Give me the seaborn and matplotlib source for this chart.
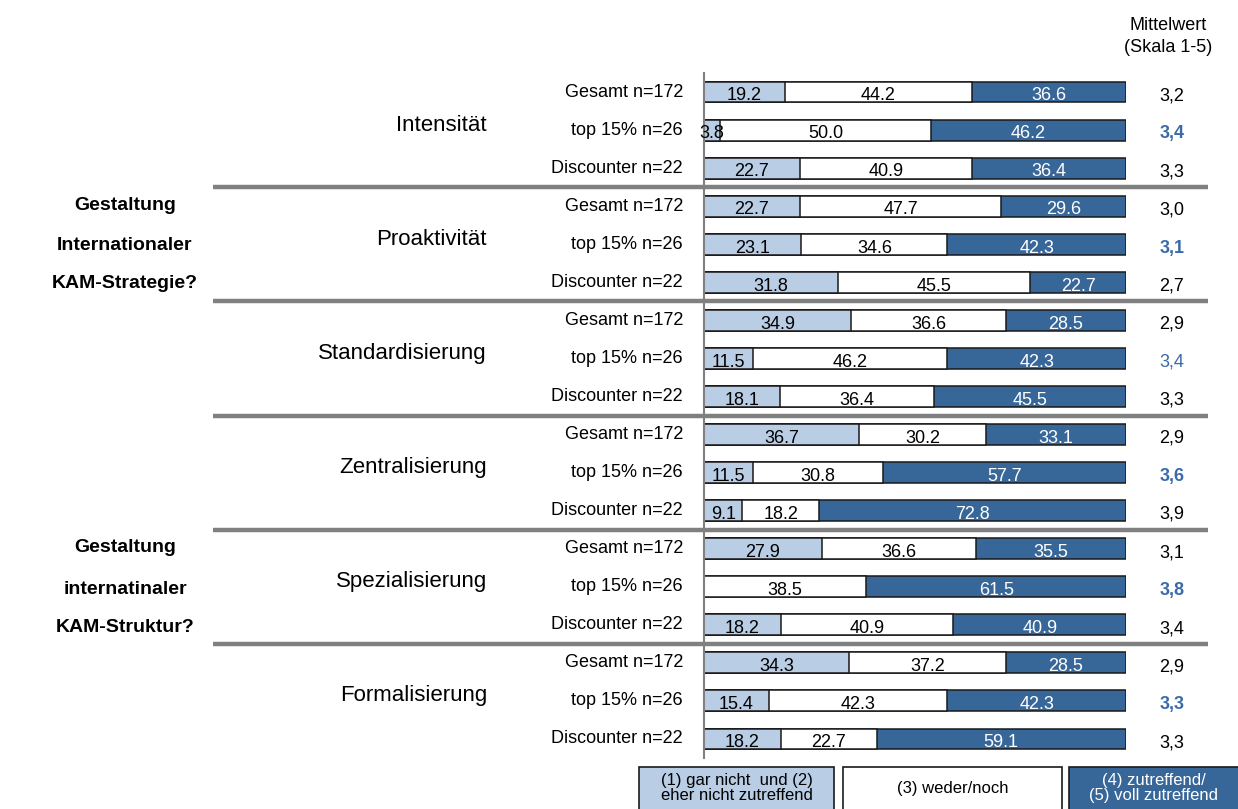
import numpy as np
import pandas as pd
import seaborn as sns
from matplotlib import pyplot as plt
from matplotlib import font_manager as fm
from matplotlib.patches import Rectangle
from matplotlib.transforms import blended_transform_factory

# data
categories = ['Intensität', 'Proaktivität', 'Standardisierung',
              'Zentralisierung', 'Spezialisierung', 'Formalisierung']
subgroups = ['Gesamt n=172', 'top 15% n=26', 'Discounter n=22']
low = [19.2, 3.8, 22.7, 22.7, 23.1, 31.8, 34.9, 11.5, 18.1,
       36.7, 11.5, 9.1, 27.9, 0.0, 18.2, 34.3, 15.4, 18.2]
mid = [44.2, 50.0, 40.9, 47.7, 34.6, 45.5, 36.6, 46.2, 36.4,
       30.2, 30.8, 18.2, 36.6, 38.5, 40.9, 37.2, 42.3, 22.7]
high = [36.6, 46.2, 36.4, 29.6, 42.3, 22.7, 28.5, 42.3, 45.5,
        33.1, 57.7, 72.8, 35.5, 61.5, 40.9, 28.5, 42.3, 59.1]
means = ['3,2', '3,4', '3,3', '3,0', '3,1', '2,7', '2,9', '3,4', '3,3',
         '2,9', '3,6', '3,9', '3,1', '3,8', '3,4', '2,9', '3,3', '3,3']
legend_labels = ['(1) gar nicht  und (2)\neher nicht zutreffend',
                 '(3) weder/noch',
                 '(4) zutreffend/\n(5) voll zutreffend']
side_titles = [['Gestaltung', 'Internationaler', 'KAM-Strategie?'],
               ['Gestaltung', 'internatinaler', 'KAM-Struktur?']]

LIGHT = '#B9CDE5'
DARK = '#376699'
MEANBLUE = '#3A6AA8'
GRAY = '#808080'

sns.set_style('white')
plt.rcParams['font.family'] = ['Liberation Sans', 'DejaVu Sans']
plt.rcParams['text.color'] = 'black'
names = {f.name for f in fm.fontManager.ttflist}
narrow = 'Liberation Sans Narrow' if 'Liberation Sans Narrow' in names else 'Liberation Sans'

W, H = 1238, 809
fig = plt.figure(figsize=(W / 100, H / 100), dpi=100)
ax = fig.add_axes([704 / W, 1 - 758 / H, (1126 - 704) / W, (758 - 73) / H])

n = len(low)
df = pd.DataFrame({'row': range(n), 'low': low, 'mid': mid, 'high': high})
df['c1'] = df['low']
df['c2'] = df['low'] + df['mid']
df['c3'] = df['c2'] + df['high']

# stacked by layering cumulative totals
for col, colr in [('c3', DARK), ('c2', 'white'), ('c1', LIGHT)]:
    sns.barplot(data=df, x=col, y='row', orient='y', color=colr, saturation=1,
                width=0.55, edgecolor='#1a1a1a', linewidth=1.1, errorbar=None, ax=ax)

for i in range(n):
    starts = [0, low[i], low[i] + mid[i]]
    vals = [low[i], mid[i], high[i]]
    for s, v, tc in zip(starts, vals, ['black', 'black', 'white']):
        if v > 0:
            ax.text(s + v / 2, i + 0.1, f'{v:.1f}', ha='center', va='center',
                    color=tc, fontsize=13)

ax.set_xlim(0, 100)
ax.set_ylim(n - 0.5, -0.5)
ax.set_xticks([])
ax.set_yticks([])
ax.set_xlabel('')
ax.set_ylabel('')
sns.despine(ax=ax, left=False, bottom=True)
ax.spines['left'].set_color(GRAY)
ax.spines['left'].set_linewidth(1.5)

trans = blended_transform_factory(fig.transFigure, ax.transData)

# row labels, group labels, mean values
for i in range(n):
    g, k = divmod(i, 3)
    ax.text(683 / W, i, subgroups[k], transform=trans, ha='right', va='center',
            fontsize=13)
    if k == 1:
        ax.text(487 / W, i - 0.13, categories[g], transform=trans, ha='right',
                va='center', fontsize=16)
        ax.text(1172 / W, i + 0.1, means[i], transform=trans, ha='center',
                va='center', fontsize=13, color=MEANBLUE,
                fontweight='normal' if categories[g] == 'Standardisierung' else 'bold')
    else:
        ax.text(1172 / W, i + 0.1, means[i], transform=trans, ha='center',
                va='center', fontsize=13, color='black')

# group separators
for g in range(1, len(categories)):
    y = g * 3 - 0.5
    ax.plot([213 / W, 1208 / W], [y, y], transform=trans, color=GRAY, lw=3.2,
            clip_on=False, solid_capstyle='butt')

# side titles
for lines, ys in zip(side_titles, [[205, 245, 283], [548, 589, 628]]):
    for txt, y in zip(lines, ys):
        fig.text(125 / W, 1 - y / H, txt, ha='center', va='center',
                 fontsize=14, fontweight='bold')

fig.text(1168 / W, 1 - 25 / H, 'Mittelwert', ha='center', va='center', fontsize=13)
fig.text(1168 / W, 1 - 47 / H, '(Skala 1-5)', ha='center', va='center', fontsize=13)

# legend boxes
boxes = [(639, 834, LIGHT, 'black'), (843, 1062, 'white', 'black'),
         (1069, 1250, DARK, 'white')]
for (x0, x1, fc, tc), lab in zip(boxes, legend_labels):
    fig.add_artist(Rectangle((x0 / W, 1 - 815 / H), (x1 - x0) / W, 48 / H,
                             transform=fig.transFigure, facecolor=fc,
                             edgecolor='#1a1a1a', lw=1.2))
    cx = (x0 + min(x1, 1238)) / 2
    fig.text(cx / W, 1 - 788 / H, lab, ha='center', va='center', fontsize=12,
             color=tc, family=narrow, linespacing=1.0)

fig.savefig('out.png', dpi=100)
